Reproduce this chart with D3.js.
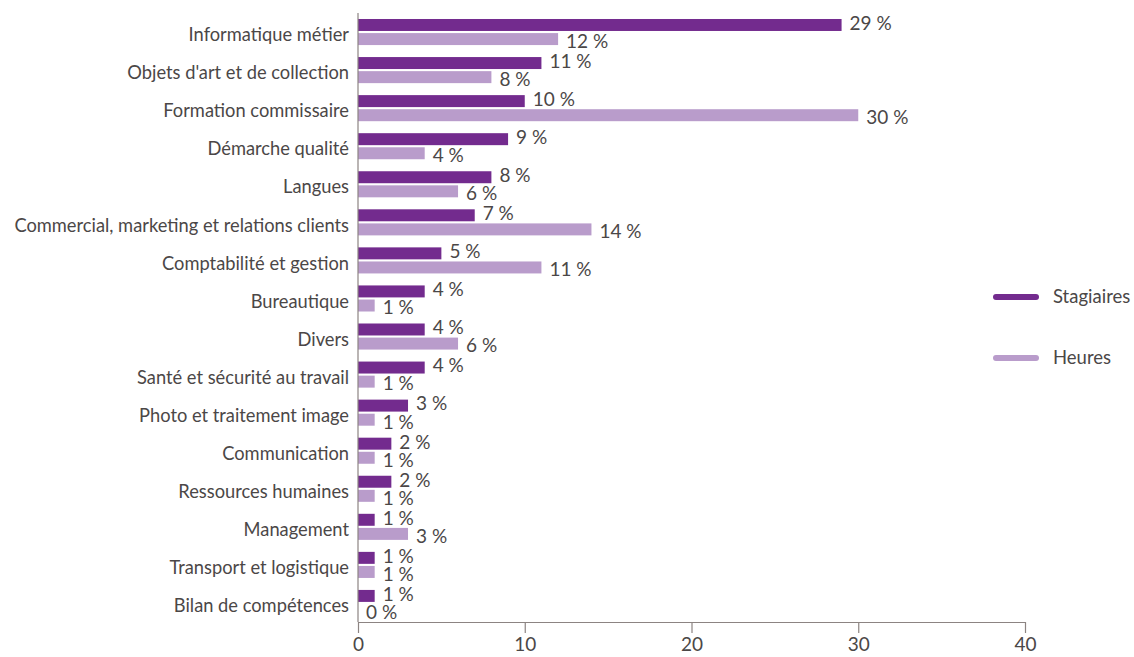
<!DOCTYPE html>
<html>
<head>
<meta charset="utf-8">
<script src="https://cdn.jsdelivr.net/npm/d3@7"></script>
<style>
  html, body { margin: 0; padding: 0; background: #fff; }
  svg { display: block; }
  text { font-family: Lato, "Open Sans", sans-serif; fill: #4b4747; }
</style>
</head>
<body>
<svg id="chart" width="1134" height="657"></svg>
<script>
// Training domains, share of trainees and share of hours (%)
const categories = [
  "Informatique métier",
  "Objets d'art et de collection",
  "Formation commissaire",
  "Démarche qualité",
  "Langues",
  "Commercial, marketing et relations clients",
  "Comptabilité et gestion",
  "Bureautique",
  "Divers",
  "Santé et sécurité au travail",
  "Photo et traitement image",
  "Communication",
  "Ressources humaines",
  "Management",
  "Transport et logistique",
  "Bilan de compétences"
];
const stagiaires = [29, 11, 10, 9, 8, 7, 5, 4, 4, 4, 3, 2, 2, 1, 1, 1];
const heures     = [12, 8, 30, 4, 6, 14, 11, 1, 6, 1, 1, 1, 1, 3, 1, 0];
const seriesNames = ["Stagiaires", "Heures"];
const xTicks = [0, 10, 20, 30, 40];

const colors = ["#732b8e", "#b99ccb"];
const axisColor = "#8c8482";
const fontStack = "Lato, 'Open Sans', sans-serif";

const svg = d3.select("#chart");
const plotTop = 13, plotBottom = 622;

const x = d3.scaleLinear().domain([0, 40]).range([358, 1025]);
const y = d3.scaleBand().domain(categories).range([plotTop, plotBottom])
  .paddingInner(0.315).paddingOuter(0.1575);
const sub = d3.scaleBand().domain(seriesNames).range([0, y.bandwidth()]).paddingInner(0.15);

const rows = categories.map((c, i) => ({ cat: c, values: [stagiaires[i], heures[i]] }));

const groups = svg.append("g").selectAll("g.row")
  .data(rows).join("g")
  .attr("class", "row")
  .attr("transform", d => `translate(0,${y(d.cat)})`);

groups.selectAll("rect")
  .data(d => d.values.map((v, k) => ({ v, k })))
  .join("rect")
  .attr("x", x(0))
  .attr("y", d => sub(seriesNames[d.k]))
  .attr("width", d => x(d.v) - x(0))
  .attr("height", sub.bandwidth())
  .attr("fill", d => colors[d.k]);

// Value labels: first series nudged up, second nudged down so pairs stay apart
const labelShift = [-2, 2];
groups.selectAll("text.val")
  .data(d => d.values.map((v, k) => ({ v, k })))
  .join("text")
  .attr("class", "val")
  .attr("x", d => x(d.v) + 8)
  .attr("y", d => sub(seriesNames[d.k]) + sub.bandwidth() / 2 + labelShift[d.k])
  .attr("dy", "0.36em")
  .style("font-size", "19px")
  .text(d => `${d.v} %`);

// Category labels
const yAxis = svg.append("g")
  .attr("transform", `translate(${x(0)},0)`)
  .call(d3.axisLeft(y).tickSize(0).tickPadding(9));
yAxis.select(".domain").attr("stroke", axisColor).attr("stroke-width", 1.2)
  .attr("d", `M0,${plotTop}V${plotBottom}`);
yAxis.selectAll("text")
  .attr("dy", "0.5em")
  .style("font-size", "18.3px")
  .style("font-family", fontStack)
  .attr("fill", "#4b4747");

// Value axis
const xAxis = svg.append("g")
  .attr("transform", `translate(0,${plotBottom})`)
  .call(d3.axisBottom(x).tickValues(xTicks).tickSize(11).tickPadding(5).tickSizeOuter(0));
xAxis.select(".domain").attr("stroke", axisColor).attr("stroke-width", 1.2);
xAxis.selectAll(".tick line").attr("stroke", axisColor).attr("stroke-width", 1.2);
xAxis.selectAll("text")
  .style("font-size", "19px")
  .style("font-family", fontStack)
  .attr("fill", "#4b4747");

// Legend
const legend = svg.append("g").selectAll("g")
  .data(seriesNames).join("g")
  .attr("transform", (d, i) => `translate(996,${297 + i * 61})`);
legend.append("line")
  .attr("x1", 0).attr("x2", 40)
  .attr("stroke", (d, i) => colors[i])
  .attr("stroke-width", 6)
  .attr("stroke-linecap", "round");
legend.append("text")
  .attr("x", 57).attr("dy", "0.35em")
  .style("font-size", "18.5px")
  .text(d => d);
</script>
</body>
</html>
